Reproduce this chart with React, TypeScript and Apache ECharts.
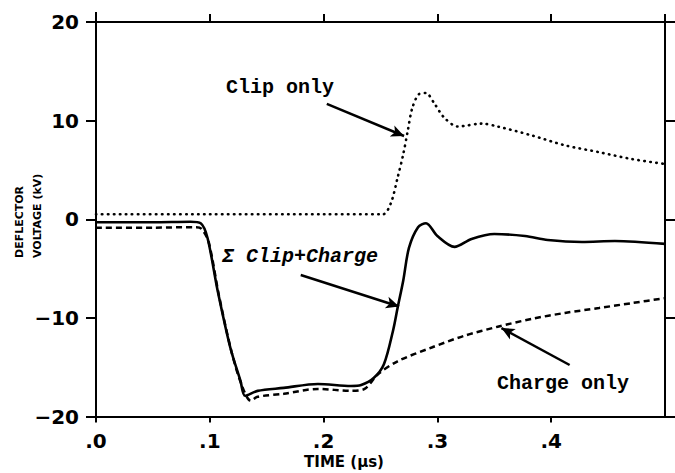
import React, { useEffect, useRef } from "react";
import * as echarts from "echarts";

// Time in µs, voltage in kV
const sumTime = [0, 0.05, 0.083, 0.092, 0.098, 0.107, 0.118, 0.127, 0.131, 0.142, 0.165, 0.195, 0.224, 0.233, 0.244, 0.253, 0.261, 0.265, 0.27, 0.275, 0.283, 0.29, 0.3, 0.315, 0.33, 0.35, 0.377, 0.397, 0.427, 0.456, 0.5];
const sumVolt = [-0.3, -0.3, -0.25, -0.4, -1.9, -7.3, -13.0, -16.4, -17.9, -17.4, -17.1, -16.7, -16.9, -16.8, -16.1, -14.7, -11.3, -9.0, -6.2, -2.9, -0.8, -0.4, -1.7, -2.8, -2.0, -1.5, -1.7, -2.1, -2.3, -2.2, -2.5];

const chargeTime = [0, 0.05, 0.088, 0.093, 0.099, 0.108, 0.119, 0.128, 0.136, 0.142, 0.165, 0.195, 0.224, 0.236, 0.248, 0.265, 0.295, 0.324, 0.353, 0.383, 0.412, 0.442, 0.471, 0.5];
const chargeVolt = [-0.85, -0.85, -0.8, -1.0, -2.3, -7.7, -13.4, -16.8, -18.4, -18.0, -17.7, -17.2, -17.4, -17.2, -15.7, -14.4, -13.0, -11.8, -10.9, -10.1, -9.5, -9.0, -8.5, -8.0];

const clipTime = [0, 0.1, 0.2, 0.252, 0.259, 0.265, 0.27, 0.274, 0.278, 0.284, 0.29, 0.297, 0.306, 0.318, 0.339, 0.353, 0.383, 0.412, 0.442, 0.471, 0.5];
const clipVolt = [0.5, 0.5, 0.5, 0.5, 1.6, 4.2, 6.6, 9.0, 11.3, 12.7, 12.8, 11.8, 10.3, 9.4, 9.7, 9.4, 8.5, 7.5, 6.8, 6.1, 5.6];

const xTicks = [0, 0.1, 0.2, 0.3, 0.4];
const yTicks = [-20, -10, 0, 10, 20];

// annotation arrows: [tailTime, tailVolt, headTime, headVolt]
const clipArrow = [0.2028, 11.7, 0.2707, 8.44];
const sumArrow = [0.1799, -5.65, 0.2663, -8.85];
const chargeArrow = [0.4162, -14.78, 0.3563, -11.03];

const pairs = (xs: number[], ys: number[]) => xs.map((x, i) => [x, ys[i]]);

const arrowLine = (a: number[]) => [
  { coord: [a[0], a[1]], symbol: "none" },
  { coord: [a[2], a[3]], symbol: "arrow", symbolSize: [9, 13] },
];

export default function App() {
  const ref = useRef<HTMLDivElement>(null);
  useEffect(() => {
    if (!ref.current) return;
    const chart = echarts.init(ref.current, undefined, { renderer: "svg" });
    const axisLine = { show: true, onZero: false, lineStyle: { color: "#000", width: 2 } };
    const tickFont = { fontFamily: "DejaVu Sans", fontWeight: "bold" as const, fontSize: 20, color: "#000" };
    const xFmt = (v: number) => (xTicks.some((t) => Math.abs(t - v) < 1e-6) ? "." + Math.round(v * 10) : "");
    const yFmt = (v: number) => (yTicks.includes(v) ? (v < 0 ? "\u2212" + Math.abs(v) : String(v)) : "");
    chart.setOption({
      animation: false,
      backgroundColor: "#fff",
      grid: { left: 96, right: 10, top: 22, bottom: 56.5, containLabel: false },
      xAxis: [
        {
          type: "value", min: 0, max: 0.5, interval: 0.1, position: "bottom",
          axisLine, splitLine: { show: false },
          axisTick: { show: true, length: 6, lineStyle: { color: "#000", width: 2 } },
          axisLabel: { ...tickFont, margin: 14, formatter: xFmt, showMaxLabel: false },
        },
        {
          type: "value", min: 0, max: 0.5, interval: 0.1, position: "top",
          axisLine, splitLine: { show: false },
          axisTick: { show: true, length: 8, lineStyle: { color: "#000", width: 2 } },
          axisLabel: { show: false },
        },
      ],
      yAxis: [
        {
          type: "value", min: -20, max: 20, interval: 10, position: "left",
          axisLine, splitLine: { show: false },
          axisTick: { show: true, length: 10, lineStyle: { color: "#000", width: 2 } },
          axisLabel: { ...tickFont, margin: 17, formatter: yFmt },
        },
        {
          type: "value", min: -20, max: 20, interval: 10, position: "right",
          axisLine, splitLine: { show: false },
          axisTick: { show: true, length: 10, lineStyle: { color: "#000", width: 2 } },
          axisLabel: { show: false },
        },
      ],
      series: [
        {
          name: "Clip only", type: "line", data: pairs(clipTime, clipVolt),
          showSymbol: false, smooth: 0.3,
          lineStyle: { color: "#000", width: 2.6, type: [0.5, 5.5], cap: "round" },
          markLine: {
            silent: true, symbol: ["none", "arrow"], label: { show: false },
            lineStyle: { color: "#000", width: 2.5, type: "solid" },
            data: [arrowLine(clipArrow), arrowLine(sumArrow), arrowLine(chargeArrow)],
          },
        },
        {
          name: "Charge only", type: "line", data: pairs(chargeTime, chargeVolt),
          showSymbol: false, smooth: 0.3,
          lineStyle: { color: "#000", width: 2.5, type: [6, 4] },
        },
        {
          name: "Σ Clip+Charge", type: "line", data: pairs(sumTime, sumVolt),
          showSymbol: false, smooth: 0.3,
          lineStyle: { color: "#000", width: 2.6 },
        },
      ],
      graphic: [
        { type: "line", shape: { x1: 96, y1: 12, x2: 96, y2: 22 }, style: { stroke: "#000", lineWidth: 2 } },
        { type: "text", x: 334, y: 87, style: { text: "Clip only", align: "right", verticalAlign: "middle", font: "bold 20px 'Liberation Mono'", fill: "#000" } },
        { type: "text", x: 222, y: 256, style: { text: "Σ Clip+Charge", align: "left", verticalAlign: "middle", font: "italic bold 20px 'Liberation Mono'", fill: "#000" } },
        { type: "text", x: 497, y: 383, style: { text: "Charge only", align: "left", verticalAlign: "middle", font: "bold 20px 'Liberation Mono'", fill: "#000" } },
        { type: "text", x: 344, y: 462, style: { text: "TIME (µs)", align: "center", verticalAlign: "middle", font: "bold 15px 'DejaVu Sans'", fill: "#000" } },
        { type: "text", x: 19, y: 258, rotation: Math.PI / 2, style: { text: "DEFLECTOR", align: "left", verticalAlign: "middle", font: "bold 11px 'DejaVu Sans'", fill: "#000" } },
        { type: "text", x: 37, y: 258, rotation: Math.PI / 2, style: { text: "VOLTAGE (kV)", align: "left", verticalAlign: "middle", font: "bold 11px 'DejaVu Sans'", fill: "#000" } },
      ],
    });
    return () => chart.dispose();
  }, []);
  return <div ref={ref} style={{ position: "absolute", left: 0, top: 0, width: 675, height: 473 }} />;
}
